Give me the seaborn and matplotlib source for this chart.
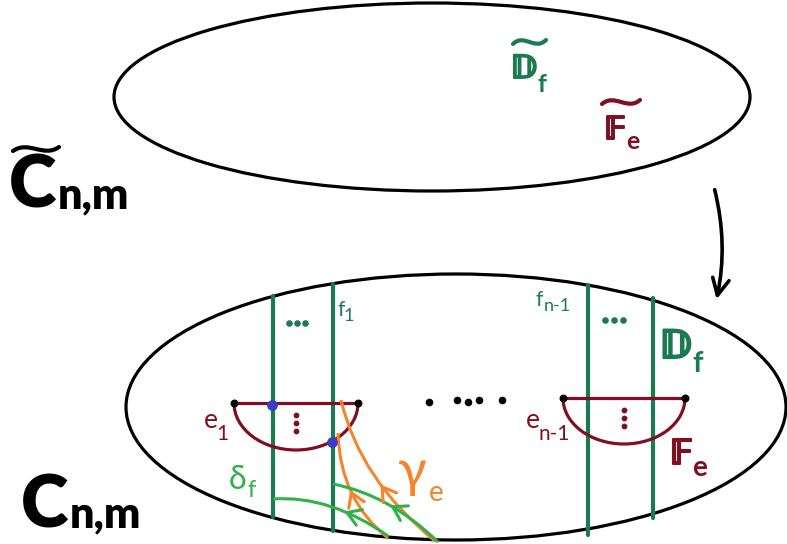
import matplotlib
matplotlib.use("Agg")
import matplotlib.pyplot as plt
import matplotlib.patheffects as pe
import seaborn as sns
import pandas as pd
from matplotlib.patches import Ellipse, Arc, PathPatch
from matplotlib.path import Path

#------------------------------------
# Diagram geometry, pixel coords (y grows downward)
top_ellipse = (432, 97, 636, 188)        # cx, cy, width, height
bottom_ellipse = (456, 407, 660, 266)

fiber_x = [273, 333, 588, 653]
fiber_top = [296, 284, 285, 298]
fiber_bottom = [517, 531, 535, 518]

# half-discs e_1 and e_{n-1}: chord ends and depth
disc_left = [234, 563]
disc_right = [358, 685]
disc_y = [403, 398]
disc_depth = [47, 46]

blue_x = [272, 332]
blue_y = [405, 442]

mid_dots_x = [429, 457, 468, 479, 502]
mid_dots_y = [402, 400, 402, 400, 400]

# curves as quadratic bezier (start, control, end)
orange_curves = [[(341, 400), (360, 480), (435, 541)],
                 [(338, 433), (340, 500), (388, 538)]]
green_curves = [[(333, 484), (390, 495), (438, 542)],
                [(273, 499), (330, 495), (388, 536)]]

# tildes: left x, mid y, width
tildes = [(13, 149, 46, 'black'), (513, 42, 33, '#1b7a52'), (602, 102, 38, '#800f22')]

# colours
C_FIBER = '#1b7a52'
C_TEAL = '#1b7a60'
C_RED = '#800f22'
C_ORANGE = '#f5842a'
C_GREEN = '#33b04a'
C_BLUE = '#3c3cc4'

#------------------------------------
sns.set_theme(style="white")
plt.rcParams['font.family'] = ['Lato', 'DejaVu Sans']

fig = plt.figure(figsize=(7.87, 5.44), dpi=100)
ax = fig.add_axes([0, 0, 1, 1])
ax.set_xlim(0, 787)
ax.set_ylim(544, 0)
ax.axis('off')

# the two surfaces
for cx, cy, w, h in [top_ellipse, bottom_ellipse]:
    ax.add_patch(Ellipse((cx, cy), w, h, fill=False, ec='black', lw=2.3))

# covering arrow
ax.annotate('', xy=(716, 302), xytext=(714, 187),
            arrowprops=dict(arrowstyle='->,head_length=1.0,head_width=0.5',
                            color='black', lw=2.6,
                            connectionstyle='arc3,rad=-0.12'))

# fibers (vertical green lines)
fib = pd.DataFrame({'x': fiber_x + fiber_x,
                    'y': fiber_top + fiber_bottom,
                    'id': list(range(4)) * 2})
sns.lineplot(data=fib, x='x', y='y', units='id', estimator=None, sort=False,
             color=C_FIBER, lw=3.0, ax=ax, legend=False)

# half-discs
for x0, x1, y0, d in zip(disc_left, disc_right, disc_y, disc_depth):
    ax.plot([x0, x1], [y0, y0], color=C_RED, lw=2.3, zorder=3)
    ax.add_patch(Arc(((x0 + x1) / 2, y0), x1 - x0, 2 * d, theta1=0, theta2=180,
                     ec=C_RED, lw=2.3, zorder=3))
    ax.scatter([x0, x1], [y0, y0], s=22, color='black', zorder=5)
    cxm = (x0 + x1) / 2
    ax.scatter([cxm] * 3, [y0 + 12, y0 + 20, y0 + 28], s=10, color=C_RED, zorder=5)

# dots between fibers
ax.scatter([289, 297, 305], [323, 323, 323], s=14, color=C_FIBER, zorder=5)
ax.scatter([605, 614, 623], [320, 320, 320], s=14, color=C_FIBER, zorder=5)
ax.scatter(mid_dots_x, mid_dots_y, s=20, color='black', zorder=5)

# blue intersection points
ax.scatter(blue_x, blue_y, s=45, color=C_BLUE, zorder=6)


def bezier(pts, color, arrow_t, reverse=False):
    p0, p1, p2 = pts
    path = Path([p0, p1, p2], [Path.MOVETO, Path.CURVE3, Path.CURVE3])
    ax.add_patch(PathPatch(path, fc='none', ec=color, lw=2.2, zorder=4))
    # chevron along curve
    t = arrow_t
    px = (1 - t) ** 2 * p0[0] + 2 * (1 - t) * t * p1[0] + t ** 2 * p2[0]
    py = (1 - t) ** 2 * p0[1] + 2 * (1 - t) * t * p1[1] + t ** 2 * p2[1]
    dx = 2 * (1 - t) * (p1[0] - p0[0]) + 2 * t * (p2[0] - p1[0])
    dy = 2 * (1 - t) * (p1[1] - p0[1]) + 2 * t * (p2[1] - p1[1])
    n = (dx ** 2 + dy ** 2) ** 0.5
    dx, dy = dx / n * 10, dy / n * 10
    if reverse:
        dx, dy = -dx, -dy
    ax.annotate('', xy=(px, py), xytext=(px - dx, py - dy),
                arrowprops=dict(arrowstyle='->,head_length=0.8,head_width=0.5',
                                color=color, lw=2.2), zorder=5)


for pts, t in zip(orange_curves, [0.55, 0.45]):
    bezier(pts, C_ORANGE, t, reverse=True)
for pts, t in zip(green_curves, [0.5, 0.6]):
    bezier(pts, C_GREEN, t, reverse=True)

# tildes over the covering space symbols
for x0, y0, w, col in tildes:
    path = Path([(x0, y0 + 2), (x0 + w / 3, y0 - 9), (x0 + 2 * w / 3, y0 + 9), (x0 + w, y0 - 2)],
                [Path.MOVETO, Path.CURVE4, Path.CURVE4, Path.CURVE4])
    ax.add_patch(PathPatch(path, fc='none', ec=col, lw=3.0, capstyle='round', zorder=5))


#------------------------------------
# labels
def sub_label(x, y, main, sub, color, size, ssize, dx, dy=8, weight='bold',
              sweight='bold', thick=0):
    fx = [pe.withStroke(linewidth=thick, foreground=color)] if thick else None
    ax.text(x, y, main, color=color, fontsize=size, fontweight=weight,
            ha='left', va='baseline', path_effects=fx)
    ax.text(x + dx, y + dy, sub, color=color, fontsize=ssize, fontweight=sweight,
            ha='left', va='baseline')


# C tilde and C
sub_label(9, 208, 'C', 'n,m', 'black', 52, 31, 49, 0, 'heavy', 'heavy')
sub_label(21, 527, 'C', 'n,m', 'black', 52, 31, 49, 0, 'heavy', 'heavy')

# top fibers labels
sub_label(511, 78, '𝔻', 'f', C_FIBER, 23, 18, 27, 14, thick=1.4)
sub_label(605, 139, '𝔽', 'e', C_RED, 23, 18, 21, 10, thick=1.4)

# bottom labels
sub_label(660, 358, '𝔻', 'f', C_FIBER, 28, 21, 32, 14, thick=1.6)
sub_label(670, 464, '𝔽', 'e', C_RED, 25, 20, 22, 12, thick=1.5)

sub_label(337, 316, 'f', '1', C_TEAL, 15, 13, 7, 5, 'normal', 'normal')
sub_label(536, 306, 'f', 'n-1', C_TEAL, 15, 13, 8, 5, 'normal', 'normal')
sub_label(204, 428, 'e', '1', C_RED, 19, 15, 12, 12, 'normal', 'normal')
sub_label(526, 428, 'e', 'n-1', C_RED, 19, 15, 13, 12, 'normal', 'normal')

sub_label(229, 489, 'δ', 'f', C_GREEN, 23, 17, 19, 8, 'normal', 'normal')
sub_label(398, 487, 'γ', 'e', C_ORANGE, 38, 20, 31, 14, 'normal', 'normal')

fig.savefig('out.png', dpi=100, facecolor='white')
